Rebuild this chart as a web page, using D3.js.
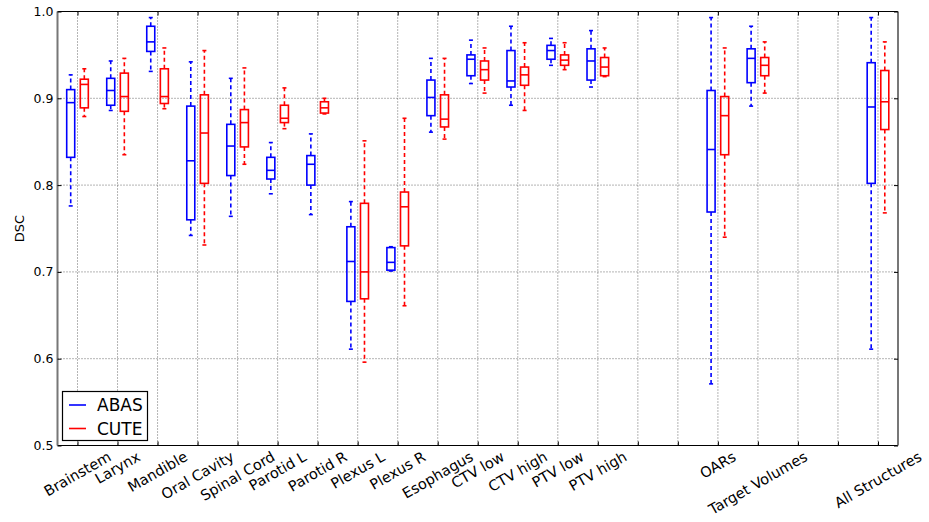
<!DOCTYPE html>
<html>
<head>
<meta charset="utf-8">
<script src="https://cdn.jsdelivr.net/npm/d3@7"></script>
<style>
  html, body { margin: 0; padding: 0; background: #fff; }
  svg { display: block; font-family: "DejaVu Sans", sans-serif; }
</style>
</head>
<body>
<svg id="chart" width="929" height="522"></svg>
<script>
// ---- data ----
const categories = ["Brainstem", "Larynx", "Mandible", "Oral Cavity", "Spinal Cord", "Parotid L",
  "Parotid R", "Plexus L", "Plexus R", "Esophagus", "CTV low", "CTV high", "PTV low", "PTV high",
  "OARs", "Target Volumes", "All Structures"];
const categoryPositions = [1, 2, 3, 4, 5, 6, 7, 8, 9, 10, 11, 12, 13, 14, 17, 18, 21];
const tickPositions = d3.range(1, 22);
const yTicks = [0.5, 0.6, 0.7, 0.8, 0.9, 1.0];

const abasWhiskerLow  = [0.776, 0.886, 0.931, 0.742, 0.764, 0.790, 0.766, 0.611, 0.701, 0.861, 0.917, 0.892, 0.938, 0.913, 0.571, 0.891, 0.611];
const abasQ1          = [0.832, 0.892, 0.954, 0.760, 0.811, 0.807, 0.800, 0.666, 0.702, 0.880, 0.926, 0.913, 0.945, 0.921, 0.769, 0.918, 0.802];
const abasMedian      = [0.895, 0.909, 0.965, 0.828, 0.845, 0.817, 0.824, 0.712, 0.711, 0.901, 0.945, 0.920, 0.955, 0.943, 0.841, 0.946, 0.890];
const abasQ3          = [0.910, 0.923, 0.983, 0.891, 0.870, 0.832, 0.834, 0.752, 0.728, 0.921, 0.950, 0.955, 0.961, 0.957, 0.909, 0.957, 0.941];
const abasWhiskerHigh = [0.927, 0.943, 0.993, 0.942, 0.923, 0.849, 0.859, 0.781, 0.729, 0.946, 0.967, 0.983, 0.969, 0.978, 0.993, 0.983, 0.993];

const cuteWhiskerLow  = [0.879, 0.835, 0.888, 0.731, 0.824, 0.865, 0.882, 0.596, 0.661, 0.853, 0.906, 0.886, 0.933, 0.925, 0.740, 0.906, 0.768];
const cuteQ1          = [0.889, 0.885, 0.894, 0.802, 0.844, 0.872, 0.883, 0.669, 0.730, 0.867, 0.921, 0.915, 0.938, 0.926, 0.835, 0.926, 0.864];
const cuteMedian      = [0.916, 0.902, 0.902, 0.860, 0.872, 0.877, 0.889, 0.700, 0.775, 0.876, 0.933, 0.927, 0.944, 0.936, 0.880, 0.938, 0.896];
const cuteQ3          = [0.922, 0.929, 0.934, 0.904, 0.887, 0.892, 0.896, 0.779, 0.792, 0.904, 0.943, 0.936, 0.950, 0.947, 0.902, 0.947, 0.932];
const cuteWhiskerHigh = [0.934, 0.946, 0.958, 0.955, 0.935, 0.912, 0.900, 0.851, 0.877, 0.946, 0.958, 0.964, 0.964, 0.958, 0.958, 0.965, 0.965];

const seriesNames = ["ABAS", "CUTE"];
const seriesColors = ["#0000ff", "#ff0000"];

(function () {
// ---- layout ----
const svg = d3.select("#chart");
const pLeft = 57.5, pRight = 898, pTop = 11.5, pBottom = 445.5;
const x = d3.scaleLinear().domain([0.5, 21.5]).range([pLeft, pRight]);
const y = d3.scaleLinear().domain([0.5, 1.0]).range([pBottom, pTop]);

const series = [
  { name: seriesNames[0], color: seriesColors[0], offset: -0.17,
    lo: abasWhiskerLow, q1: abasQ1, med: abasMedian, q3: abasQ3, hi: abasWhiskerHigh },
  { name: seriesNames[1], color: seriesColors[1], offset: 0.17,
    lo: cuteWhiskerLow, q1: cuteQ1, med: cuteMedian, q3: cuteQ3, hi: cuteWhiskerHigh }
];

// grid
const grid = svg.append("g").attr("class", "grid");
grid.selectAll("line.v").data(tickPositions).join("line").attr("class", "v")
  .attr("x1", d => x(d)).attr("x2", d => x(d)).attr("y1", pTop).attr("y2", pBottom)
  .attr("stroke", "#444").attr("stroke-width", 0.8).attr("stroke-dasharray", "1,2");
grid.selectAll("line.h").data(yTicks.slice(1, -1)).join("line").attr("class", "h")
  .attr("x1", pLeft).attr("x2", pRight).attr("y1", d => y(d)).attr("y2", d => y(d))
  .attr("stroke", "#444").attr("stroke-width", 0.8).attr("stroke-dasharray", "1,2");

// boxes
const boxW = 0.2, capW = 0.1;
series.forEach(s => {
  const g = svg.append("g").attr("stroke", s.color).attr("fill", "none").attr("stroke-width", 1.6);
  const idx = d3.range(categories.length);
  const cx = i => x(categoryPositions[i] + s.offset);
  const half = (x(boxW) - x(0)) / 2;
  const capHalf = (x(capW) - x(0)) / 2;
  g.selectAll("line.wu").data(idx).join("line").attr("class", "wu")
    .attr("x1", cx).attr("x2", cx).attr("y1", i => y(s.q3[i])).attr("y2", i => y(s.hi[i]))
    .attr("stroke-dasharray", "4,3");
  g.selectAll("line.wl").data(idx).join("line").attr("class", "wl")
    .attr("x1", cx).attr("x2", cx).attr("y1", i => y(s.q1[i])).attr("y2", i => y(s.lo[i]))
    .attr("stroke-dasharray", "4,3");
  g.selectAll("line.ch").data(idx).join("line").attr("class", "ch")
    .attr("x1", i => cx(i) - capHalf).attr("x2", i => cx(i) + capHalf)
    .attr("y1", i => y(s.hi[i])).attr("y2", i => y(s.hi[i]));
  g.selectAll("line.cl").data(idx).join("line").attr("class", "cl")
    .attr("x1", i => cx(i) - capHalf).attr("x2", i => cx(i) + capHalf)
    .attr("y1", i => y(s.lo[i])).attr("y2", i => y(s.lo[i]));
  g.selectAll("rect").data(idx).join("rect")
    .attr("x", i => cx(i) - half).attr("width", 2 * half)
    .attr("y", i => y(s.q3[i])).attr("height", i => y(s.q1[i]) - y(s.q3[i]));
  g.selectAll("line.md").data(idx).join("line").attr("class", "md")
    .attr("x1", i => cx(i) - half).attr("x2", i => cx(i) + half)
    .attr("y1", i => y(s.med[i])).attr("y2", i => y(s.med[i]));
});

// spines
svg.append("line").attr("x1", pLeft).attr("x2", pRight).attr("y1", pTop).attr("y2", pTop).attr("stroke", "#000").attr("stroke-width", 1);
svg.append("line").attr("x1", pLeft).attr("x2", pRight).attr("y1", pBottom).attr("y2", pBottom).attr("stroke", "#000").attr("stroke-width", 1);
svg.append("line").attr("x1", pLeft).attr("x2", pLeft).attr("y1", pTop).attr("y2", pBottom).attr("stroke", "#777").attr("stroke-width", 2);
svg.append("line").attr("x1", pRight).attr("x2", pRight).attr("y1", pTop).attr("y2", pBottom).attr("stroke", "#777").attr("stroke-width", 2);

// axes (inward ticks)
const yAxisL = d3.axisLeft(y).tickValues(yTicks).tickFormat(d3.format(".1f")).tickSizeInner(-4).tickSizeOuter(0).tickPadding(4);
const gyl = svg.append("g").attr("transform", `translate(${pLeft},0)`).call(yAxisL);
gyl.select(".domain").remove();
gyl.selectAll("text").attr("font-size", 12.5).attr("font-family", "DejaVu Sans").attr("fill", "#000");
gyl.selectAll("line").attr("stroke", "#000");

const yAxisR = d3.axisRight(y).tickValues(yTicks).tickFormat("").tickSizeInner(-4).tickSizeOuter(0);
const gyr = svg.append("g").attr("transform", `translate(${pRight},0)`).call(yAxisR);
gyr.select(".domain").remove();
gyr.selectAll("line").attr("stroke", "#000");

const xAxisB = d3.axisBottom(x).tickValues(tickPositions).tickFormat("").tickSizeInner(-4).tickSizeOuter(0);
const gxb = svg.append("g").attr("transform", `translate(0,${pBottom})`).call(xAxisB);
gxb.select(".domain").remove();
gxb.selectAll("line").attr("stroke", "#000");
const xAxisT = d3.axisTop(x).tickValues(tickPositions).tickFormat("").tickSizeInner(-4).tickSizeOuter(0);
const gxt = svg.append("g").attr("transform", `translate(0,${pTop})`).call(xAxisT);
gxt.select(".domain").remove();
gxt.selectAll("line").attr("stroke", "#000");

// rotated x labels (bbox centered on tick, top below axis)
const fs = 14.5, labelTop = 449;
const sin30 = 0.5, cos30 = Math.sqrt(3) / 2;
categories.forEach((c, i) => {
  const px = x(categoryPositions[i]);
  const t = svg.append("text").text(c)
    .attr("font-size", fs).attr("font-family", "DejaVu Sans")
    .attr("text-anchor", "middle").attr("dominant-baseline", "central").attr("fill", "#000");
  const w = t.node().getComputedTextLength();
  const h = fs * 1.0;
  const cy = labelTop + (w * sin30 + h * cos30) / 2;
  t.attr("transform", `translate(${px},${cy}) rotate(-30)`);
});

// y label
svg.append("text").text("DSC")
  .attr("font-size", 13).attr("font-family", "DejaVu Sans")
  .attr("text-anchor", "middle")
  .attr("transform", `translate(24,${(pTop + pBottom) / 2}) rotate(-90)`);

// legend
const lg = svg.append("g");
lg.append("rect").attr("x", 62.5).attr("y", 391.5).attr("width", 85).attr("height", 49)
  .attr("fill", "#fff").attr("stroke", "#000").attr("stroke-width", 1.2);
series.forEach((s, i) => {
  const ly = 405 + i * 23.5;
  lg.append("line").attr("x1", 69).attr("x2", 86).attr("y1", ly).attr("y2", ly)
    .attr("stroke", s.color).attr("stroke-width", 1.6);
  lg.append("text").text(s.name).attr("x", 97).attr("y", ly + 6)
    .attr("font-size", 17).attr("font-family", "DejaVu Sans").attr("fill", "#000");
});
})();
</script>
</body>
</html>
